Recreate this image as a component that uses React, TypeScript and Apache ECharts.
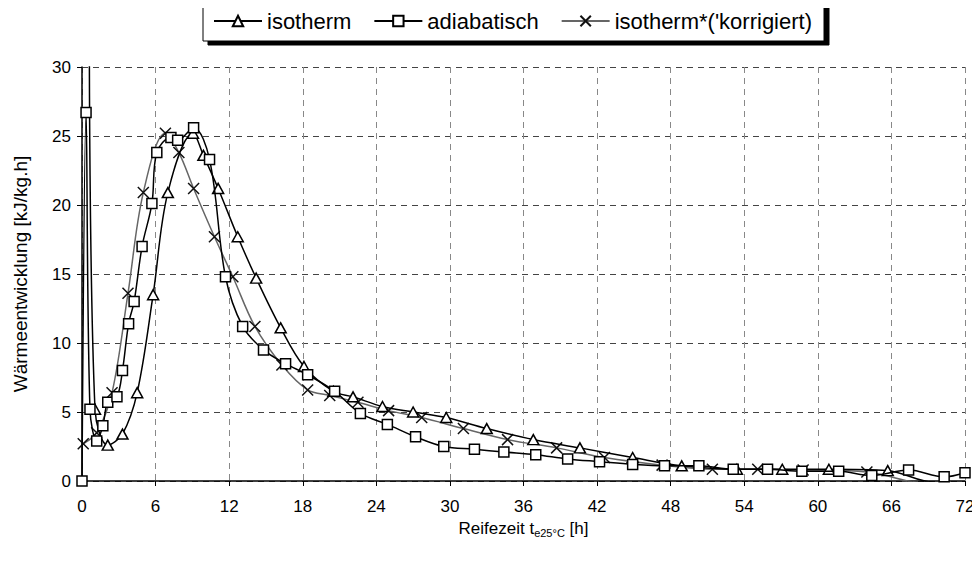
import React, { useEffect, useRef } from "react";
import * as echarts from "echarts";

const isotherm: [number, number][] = [
  [0.6, 32], [1.06, 5.2], [2.1, 2.6], [3.3, 3.4], [4.5, 6.4], [5.8, 13.5], [7.0, 20.9],
  [9.05, 25.2], [9.9, 23.6], [11.1, 21.2], [12.7, 17.7], [14.2, 14.7], [16.2, 11.1],
  [18.1, 8.3], [20.5, 6.5], [22.1, 6.1], [24.5, 5.4], [27.0, 5.0], [29.7, 4.6], [33.0, 3.8],
  [36.8, 3.0], [40.6, 2.4], [44.9, 1.7], [48.9, 1.1], [53.4, 0.85], [57.1, 0.85],
  [60.9, 0.85], [65.7, 0.75], [69.5, -0.1], [72, -0.1],
];

const adiabatisch: [number, number][] = [
  [0, 0], [0.33, 26.7], [0.65, 5.2], [1.2, 2.9], [1.7, 4.0], [2.1, 5.7], [2.85, 6.1],
  [3.3, 8.0], [3.8, 11.4], [4.25, 13.0], [4.9, 17.0], [5.7, 20.1], [6.1, 23.8], [7.25, 24.9],
  [7.8, 24.7], [9.1, 25.6], [10.4, 23.3], [11.7, 14.8], [13.1, 11.2], [14.8, 9.5], [16.6, 8.5],
  [18.4, 7.7], [20.6, 6.5], [22.7, 4.9], [24.9, 4.1], [27.2, 3.2], [29.5, 2.5], [32.0, 2.3],
  [34.4, 2.1], [37.0, 1.9], [39.6, 1.6], [42.2, 1.4], [44.9, 1.2], [47.5, 1.1], [50.3, 1.1],
  [53.1, 0.85], [55.9, 0.85], [58.7, 0.7], [61.7, 0.7], [64.4, 0.4], [67.4, 0.8], [70.3, 0.3],
  [72, 0.6],
];

const isothermKorr: [number, number][] = [
  [0.1, 2.7], [1.2, 3.5], [2.45, 6.4], [3.75, 13.6], [5.0, 20.9], [6.8, 25.2], [7.9, 23.8],
  [9.1, 21.2], [10.8, 17.7], [12.3, 14.8], [14.1, 11.2], [16.3, 8.4], [18.4, 6.6], [20.2, 6.2],
  [22.5, 5.7], [25.0, 5.1], [27.7, 4.6], [31.1, 3.8], [34.7, 3.0], [38.7, 2.4], [42.6, 1.7],
  [47.3, 1.15], [51.4, 0.85], [55.1, 0.85], [58.8, 0.8], [64.0, 0.65], [69, -0.2], [72, -0.2],
];

const seriesNames = ["isotherm", "adiabatisch", "isotherm*('korrigiert)"];
const xTicks = { min: 0, max: 72, interval: 6 };
const yTicks = { min: 0, max: 30, interval: 5 };

const FONT = "'Liberation Sans', Arial, sans-serif";

export default function App() {
  const ref = useRef<HTMLDivElement>(null);
  useEffect(() => {
    if (!ref.current) return;
    const chart = echarts.init(ref.current, undefined, { renderer: "svg" });
    const xSym = "path://M0,0L10,10M0,10L10,0";
    chart.setOption({
      animation: false,
      backgroundColor: "#fff",
      textStyle: { fontFamily: FONT },
      grid: { left: 82, right: 15, top: 67, bottom: 81 },
      legend: {
        top: 1,
        left: 203,
        data: seriesNames,
        itemWidth: 48,
        itemHeight: 13,
        itemGap: 22,
        padding: [9, 12, 9, 10],
        borderColor: "#000",
        borderWidth: 1,
        backgroundColor: "#fff",
        shadowColor: "#000",
        shadowBlur: 0,
        shadowOffsetX: 5,
        shadowOffsetY: 4,
        textStyle: { fontSize: 22, color: "#000", fontFamily: FONT },
      },
      xAxis: {
        type: "value",
        min: xTicks.min,
        max: xTicks.max,
        interval: xTicks.interval,
        axisLine: { onZero: false, lineStyle: { color: "#000", width: 1.5 } },
        axisTick: { show: true, length: 5, lineStyle: { color: "#000" } },
        axisLabel: { fontSize: 17, color: "#000", margin: 17, fontFamily: FONT },
        splitLine: { show: true, lineStyle: { color: "#888", type: [6, 5], width: 1 } },
        name: "{a|Reifezeit t}{sub|e25°C}{a| [h]}",
        nameLocation: "middle",
        nameGap: 36,
        nameTextStyle: {
          rich: {
            a: { fontSize: 17, color: "#000", fontFamily: FONT },
            sub: { fontSize: 11, color: "#000", fontFamily: FONT, padding: [10, 0, 0, 0] },
          },
        },
      },
      yAxis: {
        type: "value",
        min: yTicks.min,
        max: yTicks.max,
        interval: yTicks.interval,
        axisLine: { show: true, lineStyle: { color: "#000", width: 1.5 } },
        axisTick: { show: true, length: 5, lineStyle: { color: "#000" } },
        axisLabel: { fontSize: 17, color: "#000", margin: 11, fontFamily: FONT },
        splitLine: { show: true, lineStyle: { color: "#444", type: [6, 5], width: 1 } },
        name: "Wärmeentwicklung [kJ/kg.h]",
        nameLocation: "middle",
        nameGap: 52,
        nameTextStyle: { fontSize: 19, color: "#000", fontFamily: FONT },
      },
      series: [
        {
          name: seriesNames[0],
          type: "line",
          data: isotherm,
          smooth: 0.35,
          clip: true,
          symbol: "triangle",
          symbolSize: [11, 10],
          lineStyle: { color: "#000", width: 1.5 },
          itemStyle: { color: "#fff", borderColor: "#000", borderWidth: 1.5 },
          z: 3,
        },
        {
          name: seriesNames[1],
          type: "line",
          data: adiabatisch,
          smooth: 0.35,
          clip: true,
          symbol: "rect",
          symbolSize: 10,
          lineStyle: { color: "#000", width: 1.5 },
          itemStyle: { color: "#fff", borderColor: "#000", borderWidth: 1.5 },
          z: 4,
        },
        {
          name: seriesNames[2],
          type: "line",
          data: isothermKorr,
          smooth: 0.35,
          clip: true,
          symbol: xSym,
          symbolSize: 11,
          lineStyle: { color: "#666", width: 1.5 },
          itemStyle: { color: "#111", borderColor: "#111", borderWidth: 1.5 },
          z: 2,
        },
      ],
    });
    return () => chart.dispose();
  }, []);
  return <div ref={ref} style={{ width: 980, height: 562, margin: -8 }} />;
}
